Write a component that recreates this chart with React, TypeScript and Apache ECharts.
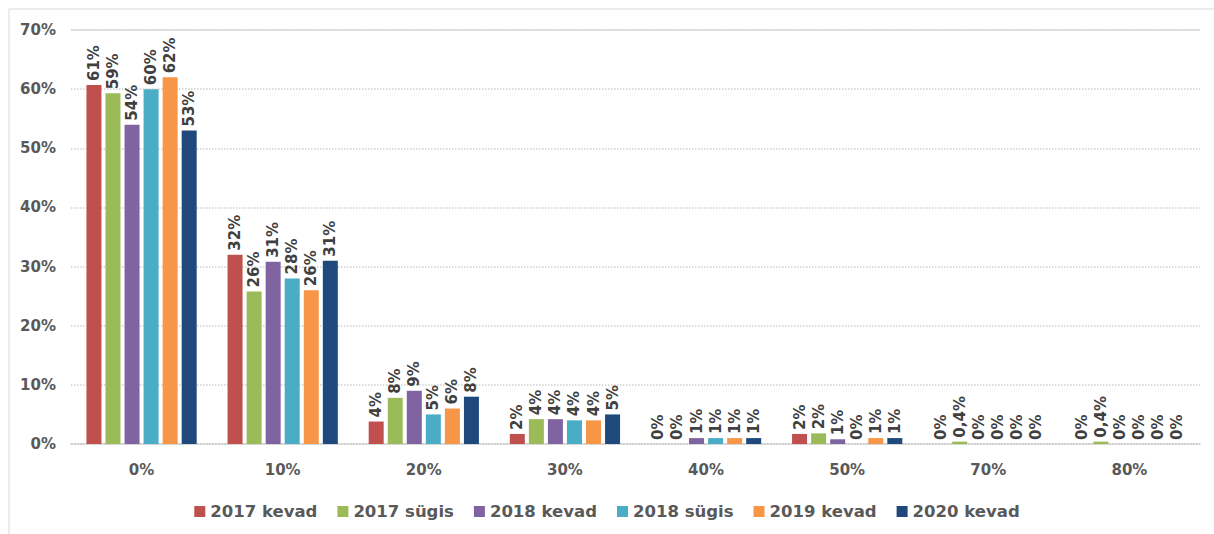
import React, { useEffect, useRef } from "react";
import * as echarts from "echarts";

const categories = ["0%", "10%", "20%", "30%", "40%", "50%", "70%", "80%"];
const seriesNames = ["2017 kevad", "2017 sügis", "2018 kevad", "2018 sügis", "2019 kevad", "2020 kevad"];
const kevad2017 = [60.7, 32, 3.8, 1.7, 0, 1.7, 0, 0];
const sygis2017 = [59.3, 25.8, 7.8, 4.2, 0, 1.8, 0.4, 0.4];
const kevad2018 = [54, 30.8, 9, 4.2, 1, 0.8, 0, 0];
const sygis2018 = [60, 28, 5, 4, 1, 0, 0, 0];
const kevad2019 = [62, 26, 6, 4, 1, 1, 0, 0];
const kevad2020 = [53, 31, 8, 5, 1, 1, 0, 0];
const yTicks = { min: 0, max: 70, interval: 10 };

const colors = ["#C0504D", "#9BBB59", "#8064A2", "#4BACC6", "#F79646", "#1F497D"];
const FONT = "'DejaVu Sans', Verdana, sans-serif";

export default function App() {
  const ref = useRef<HTMLDivElement>(null);
  useEffect(() => {
    if (!ref.current) return;
    const chart = echarts.init(ref.current, undefined, { renderer: "svg" });
    const values = [kevad2017, sygis2017, kevad2018, sygis2018, kevad2019, kevad2020];
    const fmt = (v: number) =>
      v > 0 && v < 0.5 ? String(v).replace(".", ",") + "%" : Math.round(v) + "%";
    chart.setOption({
      animation: false,
      color: colors,
      textStyle: { fontFamily: FONT },
      graphic: [
        {
          type: "rect",
          shape: { x: 9, y: 9, width: 1220, height: 540 },
          style: { fill: "none", stroke: "#d9d9d9", lineWidth: 1 },
          silent: true,
        },
      ],
      grid: { left: 71, right: 14, top: 30, bottom: 90, containLabel: false },
      legend: {
        bottom: 9,
        left: "center",
        itemWidth: 11,
        itemHeight: 11,
        itemGap: 20,
        icon: "rect",
        textStyle: { fontFamily: FONT, fontWeight: "bold", fontSize: 16.5, color: "#595959" },
        data: seriesNames,
      },
      xAxis: {
        type: "category",
        data: categories,
        axisTick: { show: false },
        axisLine: { lineStyle: { color: "#c8c8c8", type: "dotted", width: 1.5 } },
        axisLabel: { margin: 18, fontFamily: FONT, fontWeight: "bold", fontSize: 15, color: "#595959" },
      },
      yAxis: {
        type: "value",
        min: yTicks.min,
        max: yTicks.max,
        interval: yTicks.interval,
        axisLine: { show: false },
        axisTick: { show: false },
        splitLine: { lineStyle: { color: "#d0d0d0", type: "dotted", width: 1.5 } },
        axisLabel: {
          formatter: "{value}%",
          margin: 15,
          fontFamily: FONT,
          fontWeight: "bold",
          fontSize: 15,
          color: "#595959",
        },
      },
      series: seriesNames.map((name, i) => ({
        name,
        type: "bar",
        data: values[i],
        barWidth: 15,
        barGap: "27%",
        itemStyle: { color: colors[i] },
        label: {
          show: true,
          position: "top",
          rotate: 90,
          align: "left",
          verticalAlign: "middle",
          distance: 4,
          fontFamily: FONT,
          fontWeight: "bold",
          fontSize: 15,
          color: "#404040",
          formatter: (p: any) => fmt(p.value),
        },
        markLine:
          i === 0
            ? {
                silent: true,
                symbol: "none",
                label: { show: false },
                lineStyle: { color: "#d9d9d9", type: "solid", width: 1.5 },
                data: [{ yAxis: yTicks.max }],
              }
            : undefined,
      })),
    });
    return () => chart.dispose();
  }, []);
  return (
    <div style={{ position: "absolute", left: 0, top: 0, width: 1214, height: 534, background: "#fff" }}>
      <div ref={ref} style={{ width: 1214, height: 534 }} />
    </div>
  );
}
